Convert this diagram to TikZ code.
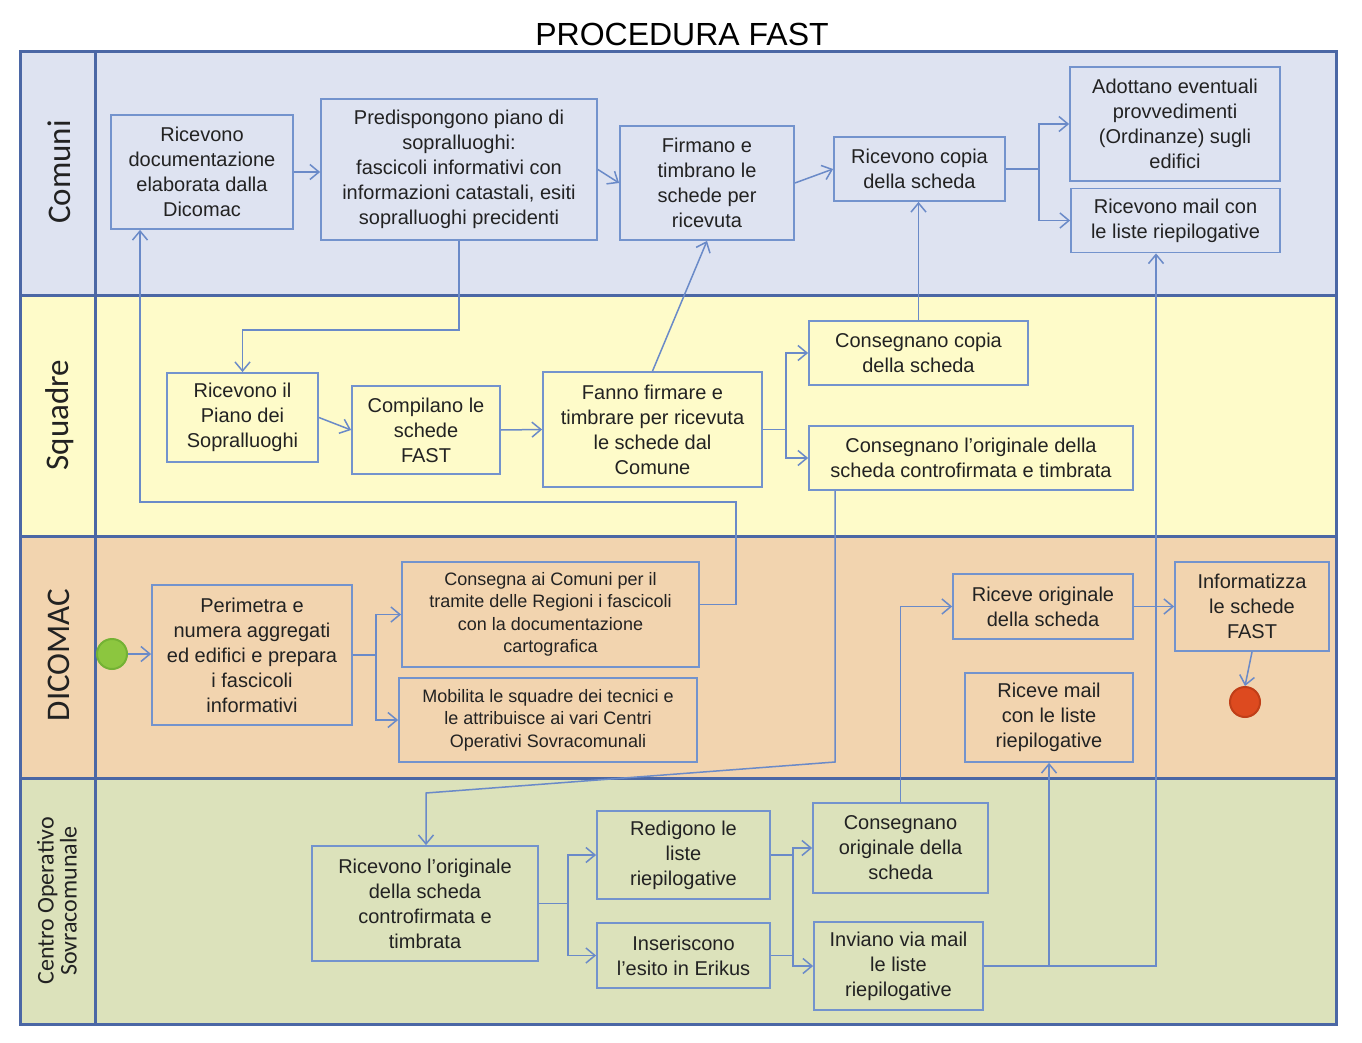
\documentclass[tikz,border=0pt]{standalone}
\usepackage{fontspec}
\setmainfont{Liberation Sans}
\newfontfamily\lanefont{Carlito}
\usetikzlibrary{arrows.meta,calc}
\definecolor{comc}{HTML}{DEE3F1}
\definecolor{squc}{HTML}{FEFBC9}
\definecolor{dicc}{HTML}{F2D4AF}
\definecolor{cenc}{HTML}{DCE2BB}
\definecolor{framec}{HTML}{4B67A5}
\definecolor{boxc}{HTML}{7393CD}
\definecolor{linec}{HTML}{6A8AC8}
\definecolor{txtc}{HTML}{222222}
\definecolor{startc}{HTML}{8CC63F}
\definecolor{startd}{HTML}{74B234}
\definecolor{endc}{HTML}{DD4A1F}
\definecolor{endd}{HTML}{C03E18}
\begin{document}
\begin{tikzpicture}[x=1pt,y=-1pt,
  box/.style={draw=boxc, line width=1.8pt, align=center, inner sep=0pt, text=txtc,
    font=\fontsize{20}{25}\selectfont},
  smallbox/.style={box, font=\fontsize{18}{22.5}\selectfont},
  arr/.style={draw=linec, line width=1.5pt, -{Straight Barb[length=9pt,width=15pt,line width=1.5pt]}},
  ln/.style={draw=linec, line width=1.5pt},
  lane/.style={fill=#1, draw=framec, line width=3pt},
  lanelabel/.style={rotate=90, text=txtc, font=\lanefont\fontsize{33}{33}\selectfont}
]
\useasboundingbox (0,0) rectangle (1362,1043);
\fill[white] (0,0) rectangle (1362,1043);

% title
\node[text=black, font=\fontsize{32}{32}\selectfont] (title) at (682,34) {PROCEDURA FAST};

% lanes
\draw[lane=comc] (20,52) rectangle (1336,295);
\draw[lane=squc] (20,295) rectangle (1336,536);
\draw[lane=dicc] (20,536) rectangle (1336,778);
\draw[lane=cenc] (20,778) rectangle (1336,1024);
\draw[draw=framec, line width=3pt] (95,52) -- (95,1024);

\node[lanelabel] (lcom) at (59,172) {Comuni};
\node[lanelabel] (lsqu) at (60,415) {Squadre};
\node[lanelabel] (ldic) at (59,655) {DICOMAC};
\node[lanelabel, align=center, font=\lanefont\fontsize{24}{23}\selectfont] (lcen) at (57,901) {Centro Operativo\\Sovracomunale};

% Comuni
\node[box, minimum width=182pt, minimum height=114pt] (c1) at (202,172) {Ricevono\\documentazione\\elaborata dalla\\Dicomac};
\node[box, minimum width=276pt, minimum height=141pt] (c2) at (459,169.5) {Predispongono piano di\\sopralluoghi:\\fascicoli informativi  con\\informazioni catastali, esiti\\sopralluoghi precidenti};
\node[box, minimum width=174pt, minimum height=114pt] (c3) at (707,183) {Firmano e\\timbrano le\\schede per\\ricevuta};
\node[box, minimum width=171pt, minimum height=64pt] (c4) at (919.5,169) {Ricevono copia\\della scheda};
\node[box, minimum width=210pt, minimum height=114pt] (c5) at (1175,124) {Adottano eventuali\\provvedimenti\\(Ordinanze) sugli\\edifici};
\node[box, minimum width=209pt, minimum height=64pt] (c6) at (1175.5,220.5) {Ricevono mail con\\le liste riepilogative};

% Squadre
\node[box, minimum width=151pt, minimum height=89pt] (s1) at (242.5,417.5) {Ricevono il\\Piano dei\\Sopralluoghi};
\node[box, minimum width=148pt, minimum height=88pt] (s2) at (426,430) {Compilano le\\schede\\FAST};
\node[box, minimum width=219pt, minimum height=115pt] (s3) at (652.5,429.5) {Fanno firmare e\\timbrare per ricevuta\\le schede dal\\Comune};
\node[box, minimum width=219pt, minimum height=64pt] (s4) at (918.5,353) {Consegnano copia\\della scheda};
\node[box, minimum width=324pt, minimum height=64pt] (s5) at (971,458) {Consegnano l’originale della\\scheda controfirmata e timbrata};

% DICOMAC
\node[circle, fill=startc, draw=startd, line width=2pt, minimum size=30pt, inner sep=0pt] (start) at (112,654) {};
\node[box, minimum width=200pt, minimum height=140pt] (d1) at (252,655) {Perimetra e\\numera aggregati\\ed edifici e prepara\\i fascicoli\\informativi};
\node[smallbox, minimum width=297pt, minimum height=105pt] (d2) at (550.5,614.5) {Consegna ai Comuni per il\\tramite delle Regioni i fascicoli\\con la documentazione\\cartografica};
\node[smallbox, minimum width=298pt, minimum height=84pt] (d3) at (548,720) {Mobilita le squadre dei tecnici e\\le attribuisce ai vari Centri\\Operativi Sovracomunali};
\node[box, minimum width=180pt, minimum height=65pt] (d4) at (1043,606.5) {Riceve originale\\della scheda};
\node[box, minimum width=154pt, minimum height=89pt] (d5) at (1252,606.5) {Informatizza\\le schede\\FAST};
\node[box, minimum width=168pt, minimum height=89pt] (d6) at (1049,717.5) {Riceve mail\\con le liste\\riepilogative};
\node[circle, fill=endc, draw=endd, line width=2pt, minimum size=30pt, inner sep=0pt] (end) at (1245,702) {};

% Centro Operativo
\node[box, minimum width=226pt, minimum height=115pt] (co1) at (425,903.5) {Ricevono l’originale\\della scheda\\controfirmata e\\timbrata};
\node[box, minimum width=173pt, minimum height=88pt] (co2) at (683.5,855) {Redigono le\\liste\\riepilogative};
\node[box, minimum width=173pt, minimum height=65pt] (co3) at (683.5,955.5) {Inseriscono\\l’esito in Erikus};
\node[box, minimum width=175pt, minimum height=90pt] (co4) at (900.5,848) {Consegnano\\originale della\\scheda};
\node[box, minimum width=169pt, minimum height=88pt] (co5) at (898.5,966) {Inviano via mail\\le liste\\riepilogative};

% coordinates for routing
\coordinate (loopL) at (140,502);
\coordinate (k1) at (835,762);
\coordinate (k2) at (426,793);
\coordinate (k3) at (1156,966);
\coordinate (j) at ($(co2.east)+(22,0)$);

% connectors Comuni
\draw[arr] (c1.east) -- (c1.east -| c2.west);
\draw[arr] (c2.east) -- (c3.west);
\draw[arr] (c3.east) -- (c4.west);
\draw[arr] (c4.east) -- ++(33,0) |- (c5.west);
\draw[arr] (c4.east) -- ++(33,0) |- (c6.west);

% Comuni -> Squadre
\draw[arr] (c2.south) -- ++(0,89) -| (s1.north);

% Squadre
\draw[arr] (s1.east) -- (s2.west);
\draw[arr] (s2.east) -- (s3.west);
\draw[arr] (s3.north) -- (c3.south);
\draw[arr] (s3.east) -- ++(23,0) |- (s4.west);
\draw[arr] (s3.east) -- ++(23,0) |- (s5.west);
\draw[arr] (s4.north) -- (s4.north |- c4.south);

% DICOMAC
\draw[arr] (start) -- (start -| d1.west);
\draw[arr] (d1.east) -- ++(23,0) |- (d2.west);
\draw[arr] (d1.east) -- ++(23,0) |- (d3.west);
\draw[arr] ($(d2.east)+(0,-10)$) -- ++(36,0) |- (loopL) -- (loopL |- c1.south);
\draw[arr] (d4.east) -- (d4.east -| d5.west);
\draw[arr] (d5.south) -- (end.north);

% Squadre -> Centro
\draw[arr] (s5.south -| k1) -- (k1) -- (k2) -- (k2 |- co1.north);

% Centro
\draw[arr] (co1.east) -- ++(29,0) |- (co2.west);
\draw[arr] (co1.east) -- ++(29,0) |- (co3.west);
\draw[arr] (co2.east) -- (j) |- (co4.west);
\draw[arr] (co3.east) -- (co3.east -| j) |- (co5.west);
\draw[ln] (co3.east -| j) -- (j);
\draw[arr] (co4.north) |- (d4.west);
\draw[arr] (co5.east) -| (d6.south);
\draw[arr] (co5.east) -- (k3) -- (k3 |- c6.south);
\end{tikzpicture}
\end{document}
